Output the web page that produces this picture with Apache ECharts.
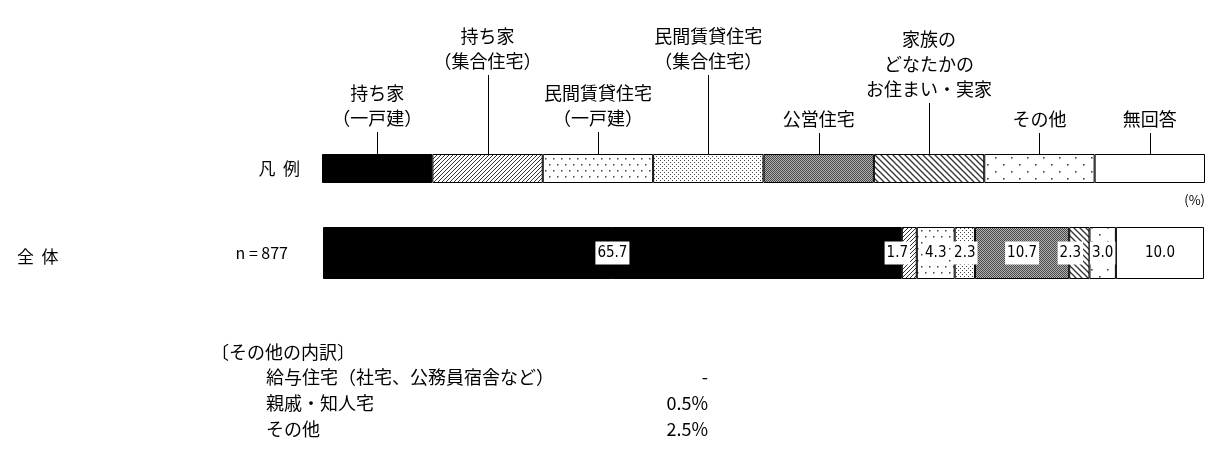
<!DOCTYPE html>
<html><head><meta charset="utf-8">
<script src="https://cdn.jsdelivr.net/npm/echarts@6/dist/echarts.min.js"></script>
<style>html,body{margin:0;padding:0;background:#fff}#c{width:1212px;height:452px}</style>
</head><body><div id="c"></div>
<script>
const categories = ['持ち家\n（一戸建）','持ち家\n（集合住宅）','民間賃貸住宅\n（一戸建）','民間賃貸住宅\n（集合住宅）','公営住宅','家族の\nどなたかの\nお住まい・実家','その他','無回答'];
const legendRowLabel = '凡  例';
const groupLabel = '全  体';
const sampleLabel = 'n = 877';
const totalValues = [65.7, 1.7, 4.3, 2.3, 10.7, 2.3, 3.0, 10.0];
const otherTitle = '〔その他の内訳〕';
const otherItems = ['給与住宅（社宅、公務員宿舎など）', '親戚・知人宅', 'その他'];
const otherValues = ['-', '0.5%', '2.5%'];
const unitLabel = '(%)';

const JP = '"Noto Sans CJK JP", "Noto Sans", sans-serif';
const NUM = '"Liberation Sans Narrow", "Arial Narrow", "DejaVu Sans Condensed", Roboto, sans-serif';

function makePattern(w, h, draw, bg) {
  const c = document.createElement('canvas'); c.width = w; c.height = h;
  const g = c.getContext('2d'); g.fillStyle = bg || '#fff'; g.fillRect(0, 0, w, h);
  draw(g, w, h); return { image: c, repeat: 'repeat' };
}
const fills = [
  '#000',
  makePattern(4, 4, g => { g.strokeStyle = '#333'; g.lineWidth = 1; for (const k of [-4, 0, 4]) { g.beginPath(); g.moveTo(k - 1, 5); g.lineTo(k + 5, -1); g.stroke(); } }),
  makePattern(8, 12, g => { g.fillStyle = '#444'; g.fillRect(1, 2, 1.5, 1.5); g.fillRect(5, 8, 1.5, 1.5); }),
  makePattern(4, 4, g => { g.fillStyle = '#444'; g.fillRect(0, 0, 1, 1); g.fillRect(2, 2, 1, 1); }),
  makePattern(2, 2, g => { g.fillStyle = '#4a4a4a'; g.fillRect(0, 0, 1, 1); g.fillRect(1, 1, 1, 1); }, '#b0b0b0'),
  makePattern(6, 6, g => { g.strokeStyle = '#333'; g.lineWidth = 1.3; for (const k of [-6, 0, 6]) { g.beginPath(); g.moveTo(k - 1, -1); g.lineTo(k + 7, 7); g.stroke(); } }),
  makePattern(16, 14, g => { g.fillStyle = '#444'; g.fillRect(3, 3, 1.6, 1.6); g.fillRect(11, 10, 1.6, 1.6); }),
  '#fff'
];

const chart = echarts.init(document.getElementById('c'), null, { renderer: 'canvas' });
const leaderLen = [22, 79, 22, 79, 21, 51, 21, 21];
const labelShift = { 1: [-12, 0], 5: [-9, 0] };

const legendSeries = categories.map((c, i) => ({
  type: 'bar', name: 'legend' + i, stack: 'legend', xAxisIndex: 0, yAxisIndex: 0,
  data: [1], barCategoryGap: '0%', barWidth: '100%', silent: true,
  itemStyle: { color: fills[i], borderColor: '#000', borderWidth: 1 }
}));
const totalSeries = totalValues.map((v, i) => ({
  type: 'bar', name: 'total' + i, stack: 'total', xAxisIndex: 1, yAxisIndex: 1,
  data: [v], barCategoryGap: '0%', barWidth: '100%', silent: true,
  itemStyle: { color: fills[i], borderColor: '#000', borderWidth: 1 },
  label: {
    show: true, position: 'inside', formatter: p => Number(p.value).toFixed(1),
    backgroundColor: '#fff', color: '#000', fontFamily: NUM, fontSize: 15,
    padding: [4, 2, 4, 2], offset: labelShift[i] || [0, 0]
  }
}));
const leaderSeries = {
  type: 'custom', xAxisIndex: 0, yAxisIndex: 0, silent: true, z: 5,
  data: categories.map((c, i) => [i + 0.5, 0]),
  renderItem: (params, api) => {
    const i = params.dataIndex;
    const p = api.coord([api.value(0), 0]);
    const top = params.coordSys.y;
    const x = Math.round(p[0]) + 0.5;
    const len = leaderLen[i];
    return { type: 'group', children: [
      { type: 'line', shape: { x1: x, y1: top, x2: x, y2: top - len }, style: { stroke: '#000', lineWidth: 1 } },
      { type: 'text', style: { text: categories[i], x: p[0], y: top - len - 1, align: 'center', textAlign: 'center', verticalAlign: 'bottom', textVerticalAlign: 'bottom', fontSize: 18, fontFamily: JP, lineHeight: 25, fill: '#000' } }
    ] };
  }
};

const txt = (text, x, y, align, size, family) => ({
  type: 'text', x, y, silent: true,
  style: { text, fontSize: size, fontFamily: family || JP, fill: '#000', align, textAlign: align, verticalAlign: 'middle', textVerticalAlign: 'middle' }
});
const graphics = [
  txt(groupLabel, 17, 257, 'left', 17),
  txt(unitLabel, 1205, 200, 'right', 13),
  txt(otherTitle, 211, 352, 'left', 18)
];
otherItems.forEach((t, i) => {
  graphics.push(txt(t, 266, 377 + i * 26, 'left', 18));
  graphics.push(txt(otherValues[i], 708, 377 + i * 26, 'right', 18));
});

chart.setOption({
  animation: false,
  backgroundColor: '#fff',
  grid: [
    { left: 322, right: 7, top: 154, height: 29 },
    { left: 323, right: 8, top: 227, height: 52 }
  ],
  xAxis: [
    { type: 'value', gridIndex: 0, min: 0, max: categories.length, show: false },
    { type: 'value', gridIndex: 1, min: 0, max: 100, show: false }
  ],
  yAxis: [
    { type: 'category', gridIndex: 0, data: [legendRowLabel], axisLine: { show: false }, axisTick: { show: false },
      axisLabel: { margin: 22, fontSize: 17, fontFamily: JP, color: '#000' } },
    { type: 'category', gridIndex: 1, data: [sampleLabel], axisLine: { show: false }, axisTick: { show: false },
      axisLabel: { margin: 35, fontSize: 16, fontFamily: JP, color: '#000' } }
  ],
  series: [...legendSeries, ...totalSeries, leaderSeries],
  graphic: graphics
});
</script></body></html>
